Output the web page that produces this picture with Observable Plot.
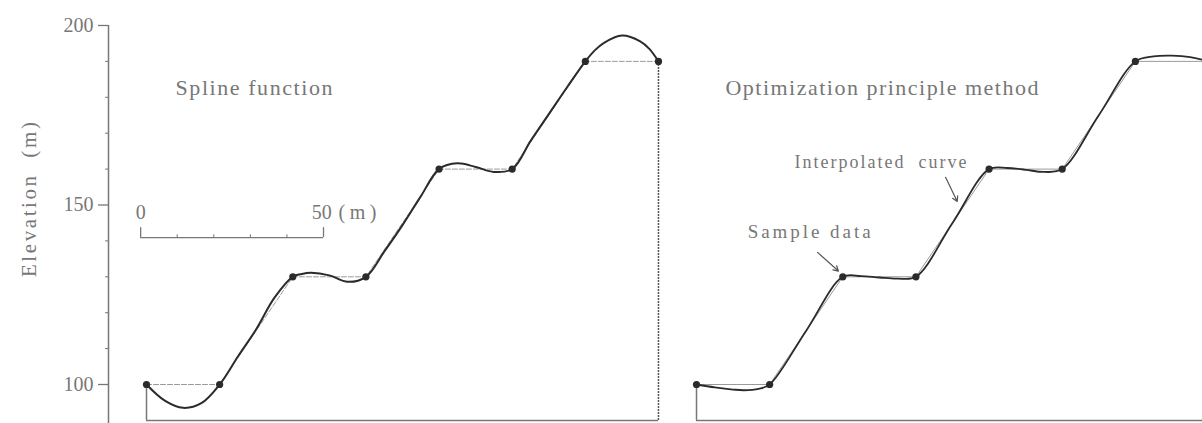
<!DOCTYPE html>
<html><head><meta charset="utf-8">
<script src="https://cdn.jsdelivr.net/npm/d3@7"></script>
<script src="https://cdn.jsdelivr.net/npm/@observablehq/plot@0.6"></script>
<style>
body{margin:0;background:#fff}
#c{position:relative;width:1202px;height:423px;overflow:hidden;background:#fff}
#c svg{position:absolute;top:0}
</style>
</head><body><div id="c"></div>
<script>
// ---- data (distance along profile in m, elevation in m) ----
const sampleX = [0, 20, 40, 60, 80, 100, 120, 140];
const sampleElev = [100, 100, 130, 130, 160, 160, 190, 190];

// Spline-function interpolated curve
const splineX = [0, 5, 10, 15, 20, 25, 30, 35, 40, 42.5, 45, 50, 55, 60, 65, 70, 75, 80, 85, 90, 95, 100, 105, 110, 115, 120, 122.5, 125, 130, 135, 137.5, 140];
const splineElev = [100, 95.5, 93.5, 94.8, 100, 107.8, 115.4, 124.2, 130, 130.8, 131.1, 130.4, 128.6, 130, 137, 144.4, 152.4, 160, 161.6, 160.6, 159.2, 160, 167.8, 175.3, 182.8, 190, 193, 195.1, 197.2, 195.6, 193.5, 190];

// Optimization-principle interpolated curve
const optX = [0, 5, 10, 13, 17, 20, 30, 40, 45, 50, 55, 60, 70, 80, 85, 90, 95, 100, 110, 120, 125, 130, 135, 140];
const optElev = [100, 99.2, 98.6, 98.4, 98.8, 100, 115, 130, 130.2, 129.8, 129.5, 130, 145, 160, 160.3, 159.8, 159.2, 160, 175, 190, 191.4, 191.6, 191.2, 190];

const yTicks = [100, 150, 200];
const yMinorTicks = [110, 120, 130, 140, 160, 170, 180, 190];
const baseElev = 90;
const yLabel = "Elevation  (m)";
const leftTitle = "Spline function";
const rightTitle = "Optimization principle method";
const scaleTicks = [0, 10, 20, 30, 40, 50];
const scaleLabels = ["0", "50"];
const scaleUnit = "(m)";
const annoTexts = ["Interpolated  curve", "Sample data"];

// ---- build tables ----
const samples = sampleX.map((x, i) => ({x, y: sampleElev[i]}));
const spline = splineX.map((x, i) => ({x, y: splineElev[i]}));
const opt = optX.map((x, i) => ({x, y: optElev[i]}));

const yDomain = [89.14, 206.96];
const ink = "#2b2b2b", grey = "#777", light = "#9a9a9a";
const font = "Liberation Serif";

// ---------- left panel ----------
const xL = [-10.39, 146.02];
const sb0 = -1.6, sbY = 140.9; // scale bar anchor
const left = Plot.plot({
  width: 680, height: 423,
  marginLeft: 108, marginRight: 0, marginTop: 0, marginBottom: 0,
  x: {domain: xL, axis: null},
  y: {domain: yDomain},
  style: {fontFamily: font, color: grey, background: "#fff"},
  marks: [
    Plot.ruleX([xL[0]], {y1: yDomain[0], y2: 200, stroke: grey, strokeWidth: 1.5}),
    Plot.axisY({ticks: yTicks, tickSize: 10, tickPadding: 5, fontSize: 20, label: null, stroke: grey, fill: grey, strokeWidth: 1.3}),
    Plot.axisY({ticks: yMinorTicks, tickSize: 3, text: null, label: null, stroke: grey}),
    Plot.text([yLabel], {x: -32, y: 151.5, rotate: -90, fontSize: 21, fill: grey, textAnchor: "middle", lineAnchor: "middle"}),
    // frame lines of the profile
    Plot.ruleX([sampleX[0]], {y1: baseElev, y2: sampleElev[0], stroke: grey, strokeWidth: 1.5}),
    Plot.ruleY([baseElev], {x1: sampleX[0], x2: sampleX[sampleX.length - 1], stroke: grey, strokeWidth: 1.5}),
    Plot.ruleX([sampleX[sampleX.length - 1]], {y1: baseElev, y2: sampleElev[sampleElev.length - 1], stroke: "#555", strokeWidth: 1.5, strokeDasharray: "2,1"}),
    // straight polyline of samples
    Plot.line(samples, {x: "x", y: "y", stroke: light, strokeWidth: 1, strokeDasharray: "5,2"}),
    // spline curve
    Plot.line(spline, {x: "x", y: "y", curve: "catmull-rom", stroke: ink, strokeWidth: 2}),
    Plot.dot(samples, {x: "x", y: "y", r: 3.6, fill: ink}),
    // title
    Plot.text([leftTitle], {x: 29.4, y: 182.7, fontSize: 22, fill: grey, textAnchor: "middle", lineAnchor: "middle"}),
    // scale bar
    Plot.ruleY([sbY], {x1: sb0 + scaleTicks[0], x2: sb0 + scaleTicks[scaleTicks.length - 1], stroke: grey, strokeWidth: 1.3}),
    Plot.ruleX([scaleTicks[0], scaleTicks[scaleTicks.length - 1]], {x: d => sb0 + d, y1: sbY, y2: sbY + 2.8, stroke: grey, strokeWidth: 1.3}),
    Plot.ruleX(scaleTicks.slice(1, -1), {x: d => sb0 + d, y1: sbY, y2: sbY + 0.8, stroke: grey}),
    Plot.text(scaleLabels, {x: (d, i) => sb0 + (i === 0 ? scaleTicks[0] : scaleTicks[scaleTicks.length - 1] - 0.5), y: 147.9, fontSize: 20, fill: grey, textAnchor: "middle", lineAnchor: "middle"}),
    Plot.text([scaleUnit], {x: sb0 + 54.1, y: 147.9, fontSize: 20, fill: grey, textAnchor: "start", lineAnchor: "middle"})
  ]
});
left.style.left = "0px";

// ---------- right panel ----------
const xR = [-4.375, 138.36];
const right = Plot.plot({
  width: 522, height: 423,
  marginLeft: 0, marginRight: 0, marginTop: 0, marginBottom: 0,
  x: {domain: xR, axis: null},
  y: {domain: yDomain, axis: null},
  style: {fontFamily: font, color: grey, background: "#fff"},
  marks: [
    Plot.ruleX([sampleX[0]], {y1: baseElev, y2: sampleElev[0], stroke: grey, strokeWidth: 1.5}),
    Plot.ruleY([baseElev], {x1: sampleX[0], x2: xR[1], stroke: grey, strokeWidth: 1.5}),
    Plot.line(samples, {x: "x", y: "y", stroke: light, strokeWidth: 1, clip: true}),
    Plot.line(opt, {x: "x", y: "y", curve: "catmull-rom", stroke: ink, strokeWidth: 1.8, clip: true}),
    Plot.dot(samples, {x: "x", y: "y", r: 3.6, fill: ink, clip: true}),
    Plot.text([rightTitle], {x: 50.7, y: 182.7, fontSize: 22, fill: grey, textAnchor: "middle", lineAnchor: "middle"}),
    Plot.text([annoTexts[0]], {x: 50.3, y: 161.8, fontSize: 18, fill: grey, textAnchor: "middle", lineAnchor: "middle"}),
    Plot.text([annoTexts[1]], {x: 30.8, y: 142.6, fontSize: 19, fill: grey, textAnchor: "middle", lineAnchor: "middle"}),
    Plot.arrow([{x1: 68.1, y1: 157.7, x2: 71.3, y2: 151.0}], {x1: "x1", y1: "y1", x2: "x2", y2: "y2", stroke: "#555", strokeWidth: 1.2, headLength: 7}),
    Plot.arrow([{x1: 33.1, y1: 136.8, x2: 38.8, y2: 131.6}], {x1: "x1", y1: "y1", x2: "x2", y2: "y2", stroke: "#555", strokeWidth: 1.2, headLength: 7})
  ]
});
right.style.left = "680px";

// stretch the scanned-looking lettering to the reference widths
const widths = {
  [leftTitle]: 157, [rightTitle]: 313, [annoTexts[0]]: 172, [annoTexts[1]]: 123, [yLabel]: 155, [scaleUnit]: 38
};
for (const svg of [left, right]) {
  d3.select(svg).selectAll("text").each(function () {
    const w = widths[this.textContent];
    if (w) d3.select(this).attr("textLength", w).attr("lengthAdjust", "spacing");
  });
}

const c = document.getElementById("c");
c.appendChild(left);
c.appendChild(right);
</script>
</body></html>
